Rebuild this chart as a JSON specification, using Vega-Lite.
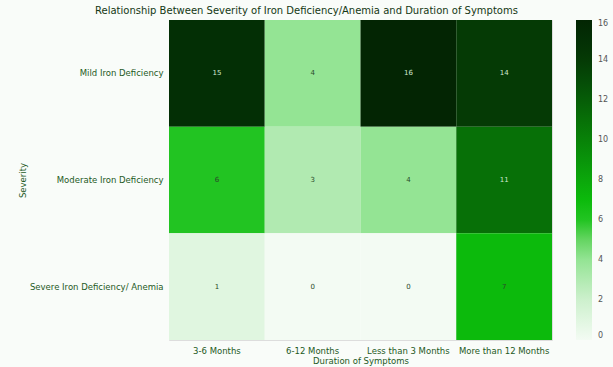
{
  "$schema": "https://vega.github.io/schema/vega-lite/v6.json",
  "autosize": {"type": "none"},
  "padding": {"left": 169, "top": 20, "right": 61, "bottom": 27},
  "width": 383,
  "height": 320,
  "background": "#f9fcf9",
  "title": {
    "text": "Relationship Between Severity of Iron Deficiency/Anemia and Duration of Symptoms",
    "font": "DejaVu Sans",
    "fontSize": 10,
    "fontWeight": "normal",
    "color": "#143814",
    "anchor": "middle",
    "dx": -54,
    "offset": 4
  },
  "data": {
    "values": [
      {"severity": "Mild Iron Deficiency", "duration": "3-6 Months", "count": 15},
      {"severity": "Mild Iron Deficiency", "duration": "6-12 Months", "count": 4},
      {"severity": "Mild Iron Deficiency", "duration": "Less than 3 Months", "count": 16},
      {"severity": "Mild Iron Deficiency", "duration": "More than 12 Months", "count": 14},
      {"severity": "Moderate Iron Deficiency", "duration": "3-6 Months", "count": 6},
      {"severity": "Moderate Iron Deficiency", "duration": "6-12 Months", "count": 3},
      {"severity": "Moderate Iron Deficiency", "duration": "Less than 3 Months", "count": 4},
      {"severity": "Moderate Iron Deficiency", "duration": "More than 12 Months", "count": 11},
      {"severity": "Severe Iron Deficiency/ Anemia", "duration": "3-6 Months", "count": 1},
      {"severity": "Severe Iron Deficiency/ Anemia", "duration": "6-12 Months", "count": 0},
      {"severity": "Severe Iron Deficiency/ Anemia", "duration": "Less than 3 Months", "count": 0},
      {"severity": "Severe Iron Deficiency/ Anemia", "duration": "More than 12 Months", "count": 7}
    ]
  },
  "encoding": {
    "x": {
      "field": "duration",
      "type": "nominal",
      "sort": ["3-6 Months", "6-12 Months", "Less than 3 Months", "More than 12 Months"],
      "scale": {"paddingInner": 0, "paddingOuter": 0},
      "axis": {
        "title": "Duration of Symptoms",
        "labelAngle": 0,
        "domain": false,
        "ticks": false,
        "labelPadding": 6,
        "titlePadding": 2,
        "labelFont": "DejaVu Sans",
        "titleFont": "DejaVu Sans",
        "labelFontSize": 8.5,
        "titleFontSize": 8.5,
        "titleFontWeight": "normal",
        "labelColor": "#1e5a1e",
        "titleColor": "#1e5a1e"
      }
    },
    "y": {
      "field": "severity",
      "type": "nominal",
      "sort": ["Mild Iron Deficiency", "Moderate Iron Deficiency", "Severe Iron Deficiency/ Anemia"],
      "scale": {"paddingInner": 0, "paddingOuter": 0},
      "axis": {
        "title": "Severity",
        "domain": false,
        "ticks": false,
        "labelPadding": 6,
        "titlePadding": 2,
        "labelFont": "DejaVu Sans",
        "titleFont": "DejaVu Sans",
        "labelFontSize": 8.5,
        "titleFontSize": 8.5,
        "titleFontWeight": "normal",
        "labelColor": "#1e5a1e",
        "titleColor": "#1e5a1e"
      }
    }
  },
  "layer": [
    {
      "mark": {"type": "rect"},
      "encoding": {
        "color": {
          "field": "count",
          "type": "quantitative",
          "scale": {
            "domain": [0, 2, 4, 6, 7, 11, 14, 16],
            "range": ["#f3fbf3", "#cdf0cd", "#94e494", "#22c422", "#0cba0c", "#077007", "#053a05", "#032503"]
          },
          "legend": {
            "title": null,
            "orient": "right",
            "offset": 24,
            "gradientLength": 320,
            "gradientThickness": 16,
            "gradientStrokeWidth": 0,
            "values": [0, 2, 4, 6, 8, 10, 12, 14, 16],
            "labelFont": "DejaVu Sans",
            "labelFontSize": 8,
            "labelColor": "#555555",
            "labelOffset": 6
          }
        }
      }
    },
    {
      "mark": {"type": "text", "font": "DejaVu Sans", "fontSize": 7},
      "encoding": {
        "text": {"field": "count", "type": "quantitative"},
        "color": {
          "condition": {"test": "datum.count > 8", "value": "#cfe9cf"},
          "value": "#2a4a2a"
        }
      }
    }
  ]
}
